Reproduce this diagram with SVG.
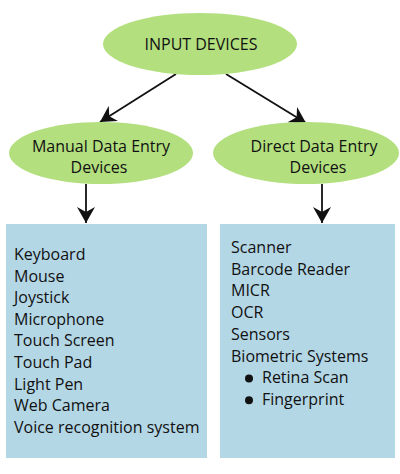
<svg xmlns="http://www.w3.org/2000/svg" width="400" height="474" viewBox="0 0 400 474">
<defs>
<style>
.ell{fill:#b3df7f;}
.box{fill:#b4d7e6;}
.t{font-family:"Open Sans","Liberation Sans",Arial,sans-serif;font-size:16px;fill:#111;}
.c{text-anchor:middle;}
.ln{stroke:#111;stroke-width:1.8;fill:none;}
</style>
<marker id="ah" viewBox="0 0 16 18" refX="16" refY="9" markerWidth="16" markerHeight="18" markerUnits="userSpaceOnUse" orient="auto">
<path d="M0,0 L16,9 L0,18 L5,9 Z" fill="#111"/>
</marker>
</defs>
<rect width="400" height="474" fill="#fff"/>
<g id="connectors">
<line class="ln" x1="176" y1="74" x2="100" y2="122" marker-end="url(#ah)"/>
<line class="ln" x1="226" y1="74" x2="306" y2="123" marker-end="url(#ah)"/>
<line class="ln" x1="86" y1="184" x2="86" y2="223" marker-end="url(#ah)"/>
<line class="ln" x1="322" y1="184" x2="322" y2="223" marker-end="url(#ah)"/>
</g>
<g id="input-devices">
<ellipse class="ell" cx="200" cy="44" rx="97" ry="31"/>
<text class="t c" x="201" y="50">INPUT DEVICES</text>
</g>
<g id="manual">
<ellipse class="ell" cx="101" cy="153" rx="92" ry="31"/>
<text class="t c" x="101" y="152">Manual Data Entry</text>
<text class="t c" x="99" y="173">Devices</text>
</g>
<g id="direct">
<ellipse class="ell" cx="306" cy="153" rx="93" ry="31"/>
<text class="t c" x="314" y="152">Direct Data Entry</text>
<text class="t c" x="318" y="173">Devices</text>
</g>
<g id="manual-list">
<rect class="box" x="6" y="224" width="201" height="234"/>
<text class="t" x="14" y="260">Keyboard</text>
<text class="t" x="14" y="281.6">Mouse</text>
<text class="t" x="14" y="303.2">Joystick</text>
<text class="t" x="14" y="324.8">Microphone</text>
<text class="t" x="14" y="346.4">Touch Screen</text>
<text class="t" x="14" y="368">Touch Pad</text>
<text class="t" x="14" y="389.6">Light Pen</text>
<text class="t" x="14" y="411.2">Web Camera</text>
<text class="t" x="14" y="432.8">Voice recognition system</text>
</g>
<g id="direct-list">
<rect class="box" x="220" y="224" width="175" height="234"/>
<text class="t" x="231" y="253">Scanner</text>
<text class="t" x="231" y="274.7">Barcode Reader</text>
<text class="t" x="231" y="296.4">MICR</text>
<text class="t" x="231" y="318.1">OCR</text>
<text class="t" x="231" y="339.8">Sensors</text>
<text class="t" x="231" y="361.5">Biometric Systems</text>
<circle cx="249" cy="378.5" r="4" fill="#111"/>
<text class="t" x="262" y="383.2">Retina Scan</text>
<circle cx="249" cy="400.2" r="4" fill="#111"/>
<text class="t" x="262" y="404.9">Fingerprint</text>
</g>
</svg>
